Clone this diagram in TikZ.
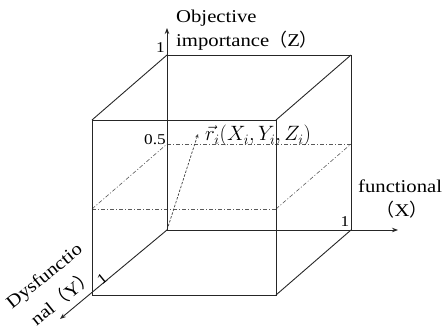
\documentclass[tikz,border=0pt]{standalone}
\usepackage{fontspec}
\usepackage{graphicx}
\setmainfont[FakeStretch=1.15]{Liberation Serif}
\newfontfamily\cjk{Noto Sans CJK SC}
\usetikzlibrary{arrows.meta}
\tikzset{
  edge/.style={draw=black!85, line width=0.9pt},
  axis/.style={edge, -{Stealth[length=6pt,width=4.5pt]}},
  plane/.style={draw=black!65, line width=0.6pt, dash pattern=on 4pt off 2pt on 1pt off 2pt},
  vec/.style={draw=black!75, line width=0.7pt, dash pattern=on 2.5pt off 1.5pt, -{Stealth[length=4pt,width=3.5pt]}},
  lab/.style={font=\fontsize{18}{20}\selectfont, inner sep=0pt},
  tick/.style={font=\fontsize{15}{17}\selectfont, inner sep=0pt},
  mlab/.style={font=\fontsize{20}{22}\selectfont, inner sep=0pt}
}
\begin{document}
\begin{tikzpicture}[x=1pt, y=-1pt]
\useasboundingbox (0,0) rectangle (448,328);
% key points
\coordinate (O) at (167,230);
\coordinate (BTL) at (167,55);
\coordinate (BTR) at (351,55);
\coordinate (BBR) at (351,230);
\coordinate (FTL) at (92,120);
\coordinate (FTR) at (276,120);
\coordinate (FBL) at (92,295);
\coordinate (FBR) at (276,295);
\coordinate (Zend) at (167,28);
\coordinate (Xend) at (398,230);
\coordinate (Yend) at (60,319);
\coordinate (BHL) at (167,144);
\coordinate (BHR) at (351,144);
\coordinate (FHL) at (92,209);
\coordinate (FHR) at (276,209);
\coordinate (R) at (198,134);
% plane at 0.5
\draw[plane] (BHL) -- (BHR);
\draw[plane] (FHL) -- (FHR);
\draw[plane] (FHL) -- (BHL);
\draw[plane] (FHR) -- (BHR);
% vector
\draw[vec] (O) -- (R);
% cube
\draw[edge] (FTL) rectangle (FBR);
\draw[edge] (BTL) -- (BTR) -- (BBR);
\draw[edge] (BTL) -- (FTL);
\draw[edge] (BTR) -- (FTR);
\draw[edge] (BBR) -- (FBR);
% axes
\draw[axis] (O) -- (Zend);
\draw[axis] (O) -- (Xend);
\draw[axis] (O) -- (Yend);
% labels
\node[lab, anchor=base west] (zl1) at (176,23) {Objective};
\node[lab, anchor=base west] (zl2) at (176,47) {importance{\cjk （}Z{\cjk ）}};
\node[lab, anchor=base west] (xl1) at (358,193) {functional};
\node[lab, anchor=base] (xl2) at (402,217) {{\cjk （}X{\cjk ）}};
\node[lab, anchor=center] (yl1) at (45,277) {\rotatebox{39}{Dysfunctio}};
\node[lab, anchor=center] (yl2) at (62,297) {\rotatebox{39}{nal{\cjk （}Y{\cjk ）}}};
\node[tick, anchor=base east] (t1) at (165,53) {1};
\node[tick, anchor=base] (t2) at (345,227) {1};
\node[tick, anchor=center] (t3) at (102,279) {\rotatebox{39}{1}};
\node[tick, anchor=base east] (t4) at (166,145) {0.5};
\node[mlab, anchor=base west] (rl) at (205,141) {$\vec{r}_i(X_i,Y_i,Z_i)$};
\end{tikzpicture}
\end{document}
